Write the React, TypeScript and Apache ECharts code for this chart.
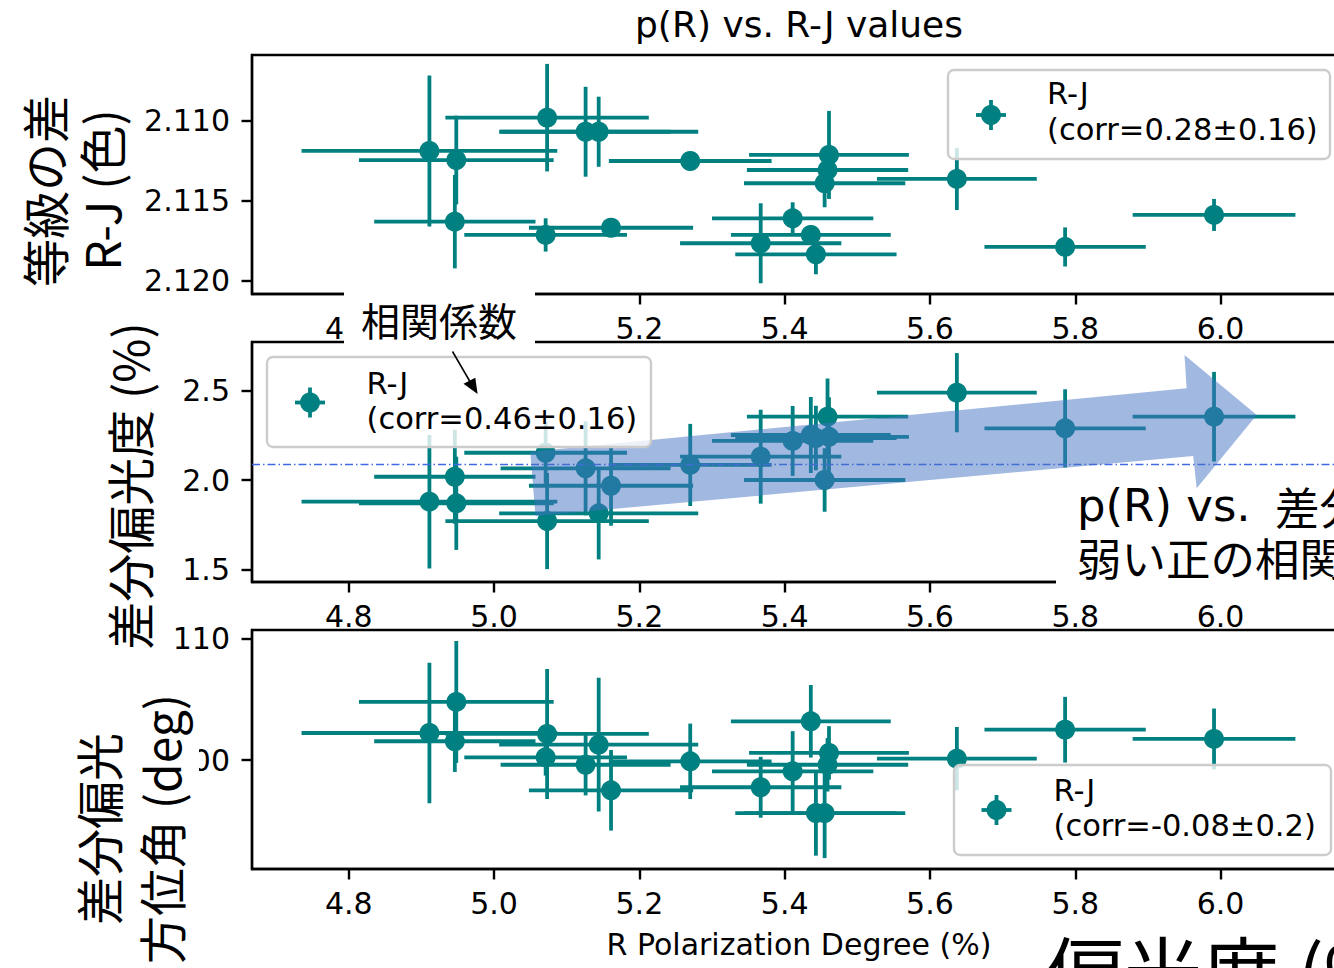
import React, { useEffect, useRef } from "react";
import * as echarts from "echarts";

// ---- data ----
// R polarization degree (%) and its error, shared by the three panels
const polDeg = [4.911, 4.948, 4.946, 5.073, 5.071, 5.126, 5.144, 5.161, 5.270, 5.367, 5.411, 5.436, 5.443, 5.455, 5.459, 5.461, 5.637, 5.786, 5.991];
const polDegErr = [0.176, 0.134, 0.111, 0.140, 0.112, 0.117, 0.137, 0.113, 0.112, 0.111, 0.111, 0.110, 0.111, 0.111, 0.111, 0.110, 0.110, 0.111, 0.112];
// panel 1: magnitude difference R-J
const rjColor = [2.11189, 2.11246, 2.11631, 2.10981, 2.11714, 2.11069, 2.11069, 2.11669, 2.11252, 2.11766, 2.1161, 2.11714, 2.11835, 2.11391, 2.11308, 2.11214, 2.11364, 2.11789, 2.11589];
const rjColorErr = [0.00472, 0.00277, 0.00292, 0.00336, 0.00104, 0.00281, 0.00219, 0.0005, 0.0004, 0.0025, 0.001, 0.0006, 0.00125, 0.0015, 0.0012, 0.00275, 0.00194, 0.00122, 0.001];
// panel 2: differential polarization degree (%)
const diffPol = [1.879, 1.870, 2.018, 1.771, 2.152, 2.065, 1.814, 1.968, 2.084, 2.130, 2.218, 2.251, 2.234, 2.000, 2.353, 2.241, 2.487, 2.288, 2.353];
const diffPolErr = [0.372, 0.260, 0.262, 0.268, 0.173, 0.262, 0.257, 0.223, 0.229, 0.262, 0.195, 0.212, 0.18, 0.177, 0.213, 0.22, 0.221, 0.218, 0.25];
// panel 3: differential polarization angle (deg)
const diffPA = [102.22, 104.77, 101.54, 102.14, 100.22, 99.61, 101.26, 97.51, 99.89, 97.76, 99.07, 103.18, 95.64, 95.64, 99.61, 100.58, 100.11, 102.49, 101.73];
const diffPAErr = [5.78, 5.01, 2.52, 5.34, 1.5, 2.52, 5.5, 3.31, 3.1, 2.5, 3.3, 2.98, 3.5, 3.7, 2.2, 2.2, 2.6, 2.7, 2.5];

const diffPolMean = 2.0876;

const xTicks = [4.8, 5.0, 5.2, 5.4, 5.6, 5.8, 6.0];
const y1Ticks = [2.11, 2.115, 2.12];
const y2Ticks = [1.5, 2.0, 2.5];
const y3Ticks = [100, 110];

const legendNames = ["R-J", "R-J", "R-J"];
const legendCorr = ["(corr=0.28±0.16)", "(corr=0.46±0.16)", "(corr=-0.08±0.2)"];

const TEAL = "#008080";
const LATIN = "DejaVu Sans";
const CJK = "Noto Sans CJK JP";

const X_MIN = 4.6668;
const X_MAX = 6.1809;

function rows(ys: number[], yerr: number[]) {
  return polDeg.map((x, i) => [x, ys[i], polDegErr[i], yerr[i]]);
}

const renderErr = (params: any, api: any) => {
  const x = api.value(0), y = api.value(1), xe = api.value(2), ye = api.value(3);
  const c = api.coord([x, y]);
  const l = api.coord([x - xe, y]);
  const r = api.coord([x + xe, y]);
  const t = api.coord([x, y + ye]);
  const b = api.coord([x, y - ye]);
  const st = { stroke: TEAL, lineWidth: 3.8 };
  return {
    type: "group",
    children: [
      { type: "line", shape: { x1: l[0], y1: c[1], x2: r[0], y2: c[1] }, style: st },
      { type: "line", shape: { x1: c[0], y1: t[1], x2: c[0], y2: b[1] }, style: st },
    ],
  };
};

function xAxisCfg(gridIndex: number) {
  return {
    type: "value",
    gridIndex,
    min: X_MIN,
    max: X_MAX,
    axisLine: { show: true, lineStyle: { color: "#000", width: 2.4 } },
    axisTick: { show: true, length: 10.5, lineStyle: { color: "#000", width: 2.4 }, customValues: xTicks },
    axisLabel: {
      customValues: xTicks,
      formatter: (v: number) => v.toFixed(1),
      fontSize: 30,
      fontFamily: LATIN,
      color: "#000",
      margin: 19,
    },
    splitLine: { show: false },
  };
}

function yAxisCfg(gridIndex: number, min: number, max: number, ticks: number[], fmt: (v: number) => string, inverse = false) {
  return {
    type: "value",
    gridIndex,
    min,
    max,
    inverse,
    axisLine: { show: true, lineStyle: { color: "#000", width: 2.4 } },
    axisTick: { show: true, length: 10.5, lineStyle: { color: "#000", width: 2.4 }, customValues: ticks },
    axisLabel: { customValues: ticks, formatter: fmt, fontSize: 30, fontFamily: LATIN, color: "#000", margin: 22 },
    splitLine: { show: false },
  };
}

function legendGraphic(bx: number, by: number, bw: number, bh: number, gx: number, gy: number, tx: number, ty1: number, ty2: number, i: number) {
  return [
    { type: "rect", z: 30, shape: { x: bx, y: by, width: bw, height: bh, r: 6 }, style: { fill: "rgba(255,255,255,0.8)", stroke: "#cccccc", lineWidth: 2.4 } },
    { type: "line", z: 31, shape: { x1: gx - 15, y1: gy, x2: gx + 15, y2: gy }, style: { stroke: TEAL, lineWidth: 3.8 } },
    { type: "line", z: 31, shape: { x1: gx, y1: gy - 15, x2: gx, y2: gy + 15 }, style: { stroke: TEAL, lineWidth: 3.8 } },
    { type: "circle", z: 31, shape: { cx: gx, cy: gy, r: 10 }, style: { fill: TEAL } },
    { type: "text", z: 31, x: tx, y: ty1, style: { text: legendNames[i], fontSize: 30.5, fontFamily: LATIN, fill: "#000", align: "left", verticalAlign: "middle" } },
    { type: "text", z: 31, x: tx, y: ty2, style: { text: legendCorr[i], fontSize: 30.5, fontFamily: LATIN, fill: "#000", align: "left", verticalAlign: "middle" } },
  ];
}

function txt(text: string, x: number, y: number, size: number, font: string, rot = 0, align = "center", z = 32) {
  return { type: "text", z, x, y, rotation: rot, style: { text, fontSize: size, fontFamily: font, fill: "#000", align, verticalAlign: "middle" } };
}

const gridBase = { left: 252, width: 1100, show: true, borderColor: "#000", borderWidth: 2.4, backgroundColor: "transparent", outerBoundsMode: "none", containLabel: false };

export default function App() {
  const ref = useRef<HTMLDivElement>(null);
  useEffect(() => {
    if (!ref.current) return;
    const chart = echarts.init(ref.current, null, { renderer: "svg" });
    const d1 = rows(rjColor, rjColorErr);
    const d2 = rows(diffPol, diffPolErr);
    const d3 = rows(diffPA, diffPAErr);
    const datasets = [d1, d2, d3];
    const series: any[] = [];
    datasets.forEach((d, i) => {
      series.push({
        type: "custom",
        xAxisIndex: i,
        yAxisIndex: i,
        data: d,
        encode: { x: 0, y: 1 },
        renderItem: renderErr,
        silent: true,
        z: 2,
      });
      const sc: any = {
        type: "scatter",
        xAxisIndex: i,
        yAxisIndex: i,
        data: d.map((r) => [r[0], r[1]]),
        symbol: "circle",
        symbolSize: 20,
        itemStyle: { color: TEAL, opacity: 1 },
        silent: true,
        z: 3,
      };
      if (i === 1) {
        sc.markLine = {
          silent: true,
          symbol: ["none", "none"],
          label: { show: false },
          lineStyle: { color: "#4169e1", width: 1.3, type: [8, 3, 1.5, 3] },
          data: [{ yAxis: diffPolMean }],
        };
      }
      series.push(sc);
    });

    const graphic: any[] = [
      // title
      txt("p(R) vs. R-J values", 799, 24, 36, LATIN),
      // x label
      txt("R Polarization Degree (%)", 799, 944, 30, LATIN),
      // y labels
      txt("等級の差", 43, 191, 48, CJK, Math.PI / 2),
      txt("R-J (色)", 100, 190, 48, CJK, Math.PI / 2),
      txt("差分偏光度 (%)", 128, 486, 48, CJK, Math.PI / 2),
      { type: "rect", z: 29, shape: { x: 60, y: 668, width: 139, height: 300 }, style: { fill: "#fff" } },
      txt("差分偏光", 96.5, 829, 48, CJK, Math.PI / 2),
      txt("方位角 (deg)", 160, 829, 48, CJK, Math.PI / 2),
      // annotation "相関係数"
      { type: "rect", z: 29, shape: { x: 344, y: 292, width: 191, height: 53 }, style: { fill: "#fff" } },
      txt("相関係数", 439, 319, 39, CJK),
      { type: "line", z: 32, shape: { x1: 452.5, y1: 351.5, x2: 470.5, y2: 382.5 }, style: { stroke: "#000", lineWidth: 1.5 } },
      { type: "polygon", z: 32, shape: { points: [[477.6, 394], [463.5, 383.8], [475.3, 377.8]] }, style: { fill: "#000" } },
      // text box at right
      { type: "rect", z: 14, shape: { x: 1056, y: 480, width: 300, height: 116 }, style: { fill: "#fff" } },
      txt("p(R) vs.", 1077, 505, 45, LATIN, 0, "left", 16),
      txt("差分偏光度", 1275, 505, 44.5, CJK, 0, "left", 16),
      txt("弱い正の相関", 1077, 556, 44.5, CJK, 0, "left", 16),
      // trend arrow
      {
        type: "polygon",
        z: 15,
        shape: { points: [[530.3, 451.7], [1186.6, 388.3], [1184.5, 355], [1256.7, 415], [1196.7, 488.3], [1193.2, 456], [535.5, 516]] },
        style: { fill: "rgba(68,114,196,0.5)" },
      },
      // big bottom-right text
      txt("偏光度 (%)", 1046, 969, 78, CJK, 0, "left"),
      ...legendGraphic(948, 70, 382, 89, 991, 115, 1047, 93, 129, 0),
      ...legendGraphic(267, 357, 384, 90, 310, 402.5, 366.5, 383, 418, 1),
      ...legendGraphic(954, 765, 377, 90, 996.5, 810, 1053.5, 790, 825, 2),
    ];

    chart.setOption({
      animation: false,
      grid: [
        { ...gridBase, top: 55, height: 239 },
        { ...gridBase, top: 342, height: 240 },
        { ...gridBase, top: 630, height: 239 },
      ],
      xAxis: [xAxisCfg(0), xAxisCfg(1), xAxisCfg(2)],
      yAxis: [
        yAxisCfg(0, 2.105894, 2.120831, y1Ticks, (v) => v.toFixed(3), true),
        yAxisCfg(1, 1.4311, 2.7697, y2Ticks, (v) => v.toFixed(1)),
        yAxisCfg(2, 91.044, 110.682, y3Ticks, (v) => String(Math.round(v))),
      ],
      series,
      graphic,
    });
    return () => chart.dispose();
  }, []);
  return <div ref={ref} style={{ position: "absolute", left: 0, top: 0, width: 1334, height: 968, background: "#fff" }} />;
}
